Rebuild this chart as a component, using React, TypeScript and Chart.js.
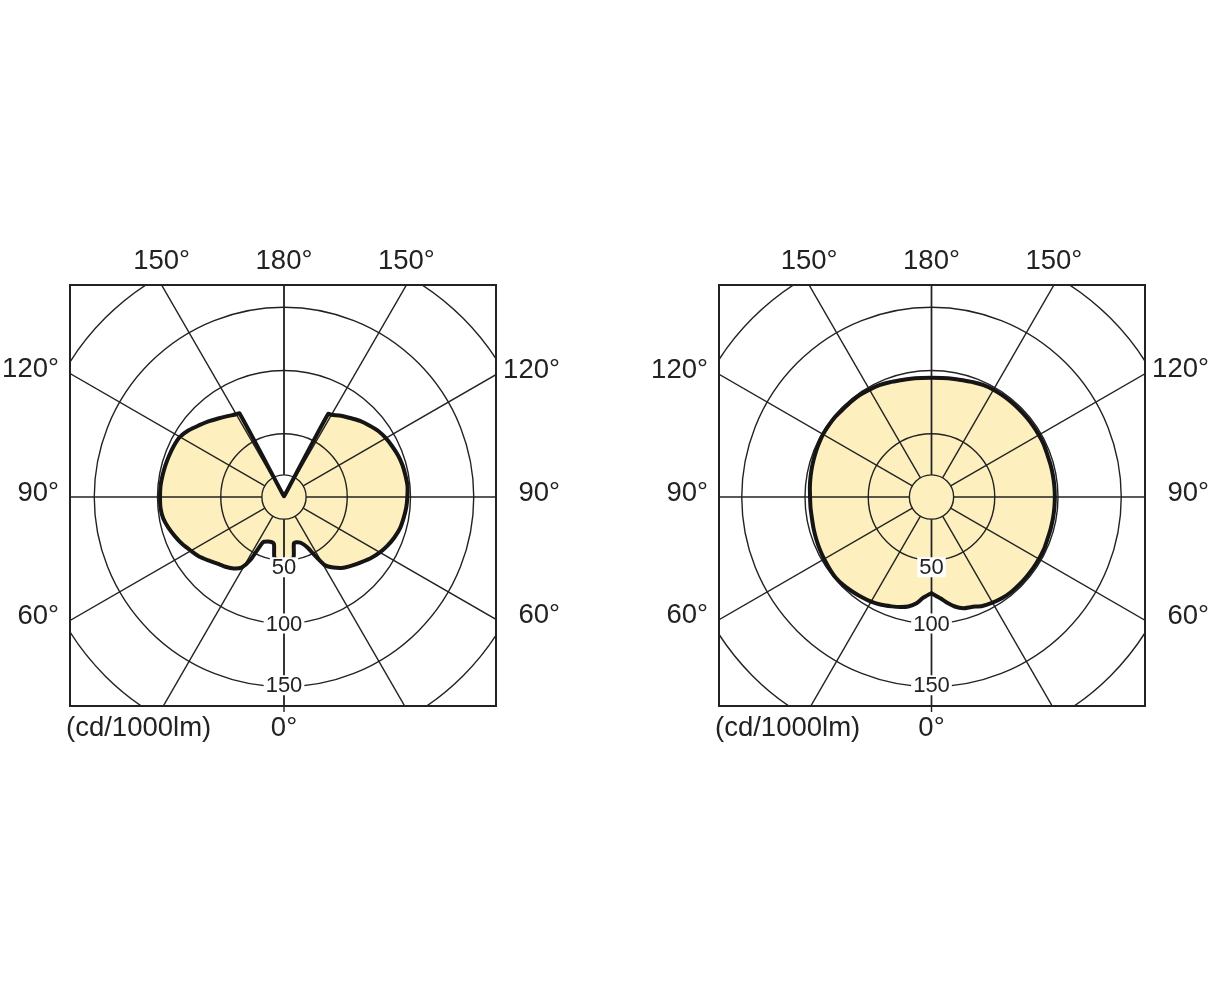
import React, { useEffect, useRef } from "react";
import { Chart, registerables } from "chart.js";

Chart.register(...registerables);

// ---------- data ----------
const GRID_RADII = [50, 100, 150, 200];
const HUB_RADIUS = 17.5;
const GRID_ANGLES = [0, 30, 60, 90, 120, 150, 180];
const TOP_LABEL_ANGLES = [150, 180];
const TOP_LABELS = ["150°", "180°"];
const SIDE_LABEL_ANGLES = [120, 90, 60];
const SIDE_LABELS = ["120°", "90°", "60°"];
const TICK_VALUES = [50, 100, 150];
const TICK_LABELS = ["50", "100", "150"];
const UNIT_LABEL = "(cd/1000lm)";
const ZERO_LABEL = "0°";

// Left diagram (batwing)
const A_ANGLES = [0, 5, 9, 12, 15, 20, 25, 28, 31, 35, 40, 45, 50, 55, 60, 65, 70, 75, 80, 85, 90, 95, 100, 105, 110, 115, 120, 125, 130, 135, 140, 145, 150, 152, 155, 160, 170, 180];
const A_LEFT = [50, 50, 48.5, 38, 37, 37.5, 39.5, 56, 65, 69, 72, 74.5, 78, 82, 85, 88.5, 91.5, 94.5, 97, 98, 98, 98, 97.5, 97, 96.5, 96, 95, 92, 88, 84.5, 81, 78, 75.5, 75, 3, 1.5, 1, 0.5];
const A_RIGHT = [50, 50, 48.5, 37.5, 37, 38.5, 44, 53, 63, 68, 73, 76.5, 80, 84, 87.5, 90.5, 93, 95, 96, 97, 97.5, 98, 97.5, 97, 96, 94.5, 93, 91, 88, 85, 81.5, 78.5, 75, 74.5, 3, 1.5, 1, 0.5];

// Right diagram (round)
const B_ANGLES = [0, 5, 8, 12, 16, 20, 25, 30, 35, 40, 45, 50, 55, 60, 65, 70, 75, 80, 85, 90, 95, 100, 105, 110, 115, 120, 125, 130, 135, 140, 145, 150, 155, 160, 165, 170, 175, 180];
const B_LEFT = [76, 80.3, 84.8, 88.5, 90.5, 92, 94, 95.5, 96.5, 97.5, 98.5, 99, 98.5, 98, 97.5, 97, 96.5, 96, 96, 96, 96.5, 97, 97.5, 98, 98.5, 99, 99, 99, 98.5, 98.5, 98.5, 98, 97.5, 96.5, 95.5, 95, 94.5, 94.3];
const B_RIGHT = [76, 80.4, 84, 88.5, 91.5, 92.5, 95, 96.5, 97.5, 98, 98, 98, 98, 98, 98, 97.5, 97.5, 97.5, 97.5, 97.5, 97.5, 97.5, 97.5, 97.5, 98, 98, 98, 98, 98, 98, 98, 98, 97.5, 96.5, 95.5, 95, 94.5, 94.3];

// ---------- styles ----------
const FILL = "rgb(253, 240, 190)";
const CURVE = "#151515";
const GRID = "#222222";
const TEXT = "#222222";
const FONT_BIG = "27.5px 'Liberation Sans', Arial, sans-serif";
const FONT_TICK = "22px 'Liberation Sans', Arial, sans-serif";
const TICK_LABEL_SHIFT = [7, 0, -1.5];

function polygon(angles: number[], left: number[], right: number[]) {
  const pts: { x: number; y: number }[] = [];
  for (let i = 0; i < angles.length; i++) {
    const t = (angles[i] * Math.PI) / 180;
    pts.push({ x: -left[i] * Math.sin(t), y: -left[i] * Math.cos(t) });
  }
  for (let i = angles.length - 2; i >= 1; i--) {
    const t = (angles[i] * Math.PI) / 180;
    pts.push({ x: right[i] * Math.sin(t), y: -right[i] * Math.cos(t) });
  }
  pts.push({ ...pts[0] });
  return pts;
}

const polarPlugin = {
  id: "polarGrid",
  beforeDatasetsDraw(chart: any) {
    const { ctx, chartArea: a, scales } = chart;
    const xs = scales.x;
    const ys = scales.y;
    const cx = xs.getPixelForValue(0);
    const cy = ys.getPixelForValue(0);
    const k = xs.getPixelForValue(1) - cx;
    ctx.save();
    ctx.beginPath();
    ctx.rect(a.left, a.top, a.right - a.left, a.bottom - a.top);
    ctx.clip();
    ctx.strokeStyle = GRID;
    ctx.lineWidth = 1.4;
    [HUB_RADIUS, ...GRID_RADII].forEach((r) => {
      ctx.beginPath();
      ctx.arc(cx, cy, r * k, 0, Math.PI * 2);
      ctx.stroke();
    });
    GRID_ANGLES.forEach((ang) => {
      const t = (ang * Math.PI) / 180;
      [-1, 1].forEach((side) => {
        const r0 = HUB_RADIUS;
        const r1 = 300;
        ctx.beginPath();
        ctx.moveTo(xs.getPixelForValue(side * r0 * Math.sin(t)), ys.getPixelForValue(-r0 * Math.cos(t)));
        ctx.lineTo(xs.getPixelForValue(side * r1 * Math.sin(t)), ys.getPixelForValue(-r1 * Math.cos(t)));
        ctx.stroke();
      });
    });
    ctx.restore();
  },
  afterDatasetsDraw(chart: any) {
    const { ctx, chartArea: a, scales } = chart;
    const xs = scales.x;
    const ys = scales.y;
    const cx = xs.getPixelForValue(0);
    ctx.save();
    // tick labels on the 0° axis
    ctx.font = FONT_TICK;
    ctx.textAlign = "center";
    ctx.textBaseline = "middle";
    TICK_VALUES.forEach((v, i) => {
      const py = ys.getPixelForValue(-v) + TICK_LABEL_SHIFT[i];
      const w = ctx.measureText(TICK_LABELS[i]).width;
      ctx.fillStyle = "#ffffff";
      ctx.fillRect(cx - w / 2 - 2, py - 10, w + 4, 20);
      ctx.fillStyle = TEXT;
      ctx.fillText(TICK_LABELS[i], cx, py + 1);
    });
    // frame
    ctx.strokeStyle = GRID;
    ctx.lineWidth = 2;
    ctx.strokeRect(a.left, a.top, a.right - a.left, a.bottom - a.top);
    ctx.lineWidth = 1.4;
    ctx.beginPath();
    ctx.moveTo(cx, a.bottom);
    ctx.lineTo(cx, a.bottom + 6);
    ctx.stroke();
    // angle labels
    ctx.font = FONT_BIG;
    ctx.fillStyle = TEXT;
    ctx.textBaseline = "middle";
    ctx.textAlign = "center";
    const yTop = ys.max;
    TOP_LABEL_ANGLES.forEach((ang, i) => {
      const t = ((180 - ang) * Math.PI) / 180;
      const sides = ang === 180 ? [1] : [-1, 1];
      sides.forEach((side) => {
        const px = xs.getPixelForValue(side * yTop * Math.tan(t));
        ctx.fillText(TOP_LABELS[i], px, a.top - 24);
      });
    });
    SIDE_LABEL_ANGLES.forEach((ang, i) => {
      const t = (ang * Math.PI) / 180;
      const cot = Math.cos(t) / Math.sin(t);
      const pyL = ys.getPixelForValue(xs.min * cot) - 4;
      const pyR = ys.getPixelForValue(-xs.max * cot) - 4;
      ctx.textAlign = "right";
      ctx.fillText(SIDE_LABELS[i], a.left - 11, pyL);
      ctx.fillText(SIDE_LABELS[i], a.right + 64, pyR);
    });
    ctx.textAlign = "left";
    ctx.fillText(UNIT_LABEL, a.left - 4, a.bottom + 22);
    ctx.textAlign = "center";
    ctx.fillText(ZERO_LABEL, cx, a.bottom + 22);
    ctx.restore();
  },
};

type PolarProps = {
  angles: number[];
  left: number[];
  right: number[];
  xMin: number;
  xMax: number;
  yMin: number;
  yMax: number;
  padding: { left: number; right: number; top: number; bottom: number };
  width: number;
  height: number;
  style: React.CSSProperties;
};

function PolarDiagram(props: PolarProps) {
  const ref = useRef<HTMLCanvasElement | null>(null);
  useEffect(() => {
    if (!ref.current) return;
    const chart = new Chart(ref.current, {
      type: "scatter",
      data: {
        datasets: [
          {
            data: polygon(props.angles, props.left, props.right),
            showLine: true,
            borderColor: CURVE,
            borderWidth: 4,
            backgroundColor: FILL,
            fill: "shape",
            pointRadius: 0,
            pointHoverRadius: 0,
            tension: 0.2,
            borderJoinStyle: "round",
            borderCapStyle: "round",
          } as any,
        ],
      },
      options: {
        responsive: false,
        animation: false,
        devicePixelRatio: 1,
        events: [],
        layout: { padding: props.padding },
        scales: {
          x: { type: "linear", display: false, min: props.xMin, max: props.xMax },
          y: { type: "linear", display: false, min: props.yMin, max: props.yMax },
        },
        plugins: {
          legend: { display: false },
          tooltip: { enabled: false },
          filler: { drawTime: "beforeDraw" } as any,
        },
      },
      plugins: [polarPlugin],
    });
    return () => chart.destroy();
  }, []);
  return <canvas ref={ref} width={props.width} height={props.height} style={props.style} />;
}

const K = 1.265;

export default function App() {
  return (
    <div style={{ position: "absolute", left: 0, top: 0, width: 1209, height: 990, background: "#fff" }}>
      <PolarDiagram
        angles={A_ANGLES}
        left={A_LEFT}
        right={A_RIGHT}
        xMin={-214 / K}
        xMax={212 / K}
        yMin={-209 / K}
        yMax={212 / K}
        padding={{ left: 70, right: 108, top: 55, bottom: 54 }}
        width={604}
        height={530}
        style={{ position: "absolute", left: 0, top: 230, display: "block" }}
      />
      <PolarDiagram
        angles={B_ANGLES}
        left={B_LEFT}
        right={B_RIGHT}
        xMin={-212.5 / K}
        xMax={213.5 / K}
        yMin={-209 / K}
        yMax={212 / K}
        padding={{ left: 115, right: 64, top: 55, bottom: 54 }}
        width={605}
        height={530}
        style={{ position: "absolute", left: 604, top: 230, display: "block" }}
      />
    </div>
  );
}
